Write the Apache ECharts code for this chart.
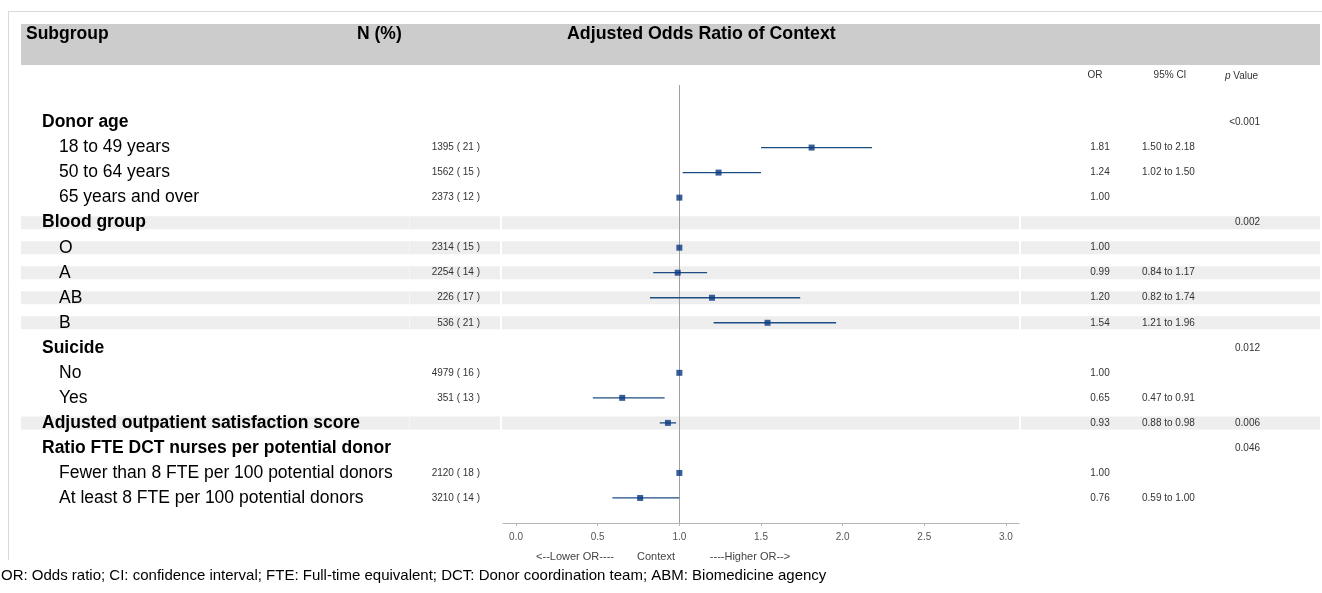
<!DOCTYPE html>
<html><head><meta charset="utf-8">
<script src="https://cdn.jsdelivr.net/npm/echarts@6/dist/echarts.min.js"></script>
<style>html,body{margin:0;padding:0;background:#fff}#c{width:1322px;height:593px}</style>
</head><body><div id="c"></div>
<script>
// ---------- data ----------
const labels = ['Donor age', '18 to 49 years', '50 to 64 years', '65 years and over',
  'Blood group', 'O', 'A', 'AB', 'B',
  'Suicide', 'No', 'Yes',
  'Adjusted outpatient satisfaction score',
  'Ratio FTE DCT nurses per potential donor',
  'Fewer than 8 FTE per 100 potential donors', 'At least 8 FTE per 100 potential donors'];
const isGroup = [1, 0, 0, 0, 1, 0, 0, 0, 0, 1, 0, 0, 1, 1, 0, 0];
const nPct = ['', '1395 ( 21 )', '1562 ( 15 )', '2373 ( 12 )', '', '2314 ( 15 )', '2254 ( 14 )', '226 ( 17 )', '536 ( 21 )',
  '', '4979 ( 16 )', '351 ( 13 )', '', '', '2120 ( 18 )', '3210 ( 14 )'];
const orVal = [null, 1.81, 1.24, 1.00, null, 1.00, 0.99, 1.20, 1.54, null, 1.00, 0.65, 0.93, null, 1.00, 0.76];
const ciLow = [null, 1.50, 1.02, null, null, null, 0.84, 0.82, 1.21, null, null, 0.47, 0.88, null, null, 0.59];
const ciHigh = [null, 2.18, 1.50, null, null, null, 1.17, 1.74, 1.96, null, null, 0.91, 0.98, null, null, 1.00];
const pVal = ['<0.001', '', '', '', '0.002', '', '', '', '', '0.012', '', '', '0.006', '0.046', '', ''];
const shadedRows = [4, 5, 6, 7, 8, 12];
const xTicks = [0, 0.5, 1, 1.5, 2, 2.5, 3];
const refValue = 1;
const footnote = 'OR: Odds ratio; CI: confidence interval; FTE: Full-time equivalent; DCT: Donor coordination team; ABM: Biomedicine agency';

// ---------- derived ----------
const FONT = '"Liberation Sans", Arial, Helvetica, sans-serif';
const rowIds = labels.map((_, i) => String(i));
const orText = orVal.map(v => v == null ? '' : v.toFixed(2));
const ciText = ciLow.map((lo, i) => lo == null ? '' : lo.toFixed(2) + ' to ' + ciHigh[i].toFixed(2));
const pointData = [];
orVal.forEach((v, i) => { if (v != null) pointData.push([v, i]); });
const ciData = [];
ciLow.forEach((lo, i) => { if (lo != null) ciData.push([lo, ciHigh[i], i]); });

const PLOT_TOP = 85, PLOT_H = 438;
const Y_MIN = -1.5, Y_MAX = 16;
const step = PLOT_H / (Y_MAX - Y_MIN);

const chart = echarts.init(document.getElementById('c'), null, { renderer: 'canvas' });

function textAxis(position, offset, align, fmt) {
  return {
    type: 'category', gridIndex: 1, inverse: true, data: rowIds, position: position, offset: offset,
    axisLine: { show: false }, axisTick: { show: false }, splitLine: { show: false },
    axisLabel: { interval: 0, margin: 0, align: align, formatter: fmt, fontFamily: FONT, fontSize: 10, color: '#333' }
  };
}

const option = {
  animation: false,
  textStyle: { fontFamily: FONT },
  grid: [
    { left: 503, right: 303, top: PLOT_TOP, height: PLOT_H },
    { left: 503, right: 303, top: PLOT_TOP + (0 - Y_MIN - 0.5) * step, height: labels.length * step }
  ],
  xAxis: [
    {
      type: 'value', gridIndex: 0, min: -0.08, max: 3.08,
      axisLine: { show: true, onZero: false, lineStyle: { color: '#b4b4b4', width: 1 } },
      axisTick: { show: true, customValues: xTicks, length: 3, lineStyle: { color: '#b4b4b4' } },
      axisLabel: { customValues: xTicks, formatter: v => v.toFixed(1), fontSize: 10, color: '#555', margin: 9, fontFamily: FONT },
      splitLine: { show: false }
    },
    { type: 'value', gridIndex: 1, show: false, min: 0, max: 1 }
  ],
  yAxis: [
    { type: 'value', gridIndex: 0, min: Y_MIN, max: Y_MAX, inverse: true, show: false },
    {
      type: 'category', gridIndex: 1, inverse: true, data: rowIds, position: 'left', offset: 461,
      axisLine: { show: false }, axisTick: { show: false }, splitLine: { show: false },
      axisLabel: {
        interval: 0, margin: 0, align: 'left', fontFamily: FONT,
        formatter: (v, i) => isGroup[i] ? '{g|' + labels[i] + '}' : '{s|' + labels[i] + '}',
        rich: {
          g: { fontFamily: FONT, fontSize: 17.5, fontWeight: 'bold', color: '#000' },
          s: { fontFamily: FONT, fontSize: 17.5, color: '#000', padding: [0, 0, 0, 17] }
        }
      }
    },
    textAxis('left', 23, 'right', (v, i) => nPct[i]),
    textAxis('right', 81, 'center', (v, i) => orText[i]),
    textAxis('right', 123, 'left', (v, i) => ciText[i]),
    textAxis('right', 241, 'right', (v, i) => pVal[i])
  ],
  series: [
    {
      type: 'custom', name: 'bands', xAxisIndex: 0, yAxisIndex: 0, silent: true, z: 0, clip: false,
      data: shadedRows.map(r => [0, r]),
      renderItem: function (params, api) {
        const y = api.coord([0, api.value(1)])[1];
        const segs = [[21, 500], [502, 1019], [1021, 1320]];
        const kids = segs.map(s => ({ type: 'rect', shape: { x: s[0], y: y - 6.5, width: s[1] - s[0], height: 13 }, style: { fill: '#eeeeee' } }));
        kids.push({ type: 'rect', shape: { x: 409, y: y - 6.5, width: 1, height: 13 }, style: { fill: '#f6f6f6' } });
        return { type: 'group', children: kids };
      }
    },
    {
      type: 'custom', name: 'ci', xAxisIndex: 0, yAxisIndex: 0, silent: true, z: 3,
      encode: { x: [0, 1], y: 2 },
      data: ciData,
      renderItem: function (params, api) {
        const a = api.coord([api.value(0), api.value(2)]);
        const b = api.coord([api.value(1), api.value(2)]);
        return { type: 'line', shape: { x1: a[0], y1: a[1], x2: b[0], y2: b[1] }, style: { stroke: '#1c4d82', lineWidth: 1.3 } };
      }
    },
    {
      type: 'scatter', name: 'OR', xAxisIndex: 0, yAxisIndex: 0, z: 4, silent: true,
      symbol: 'rect', symbolSize: 6, itemStyle: { color: '#08377e' },
      data: pointData,
      markLine: {
        silent: true, symbol: 'none', label: { show: false }, z: 2,
        lineStyle: { color: '#a0a0a0', width: 1, type: 'solid' },
        data: [{ xAxis: refValue }]
      }
    }
  ],
  graphic: [
    { type: 'line', silent: true, z: -10, shape: { x1: 8, y1: 11.5, x2: 1322, y2: 11.5 }, style: { stroke: '#d9d9d9', lineWidth: 1 } },
    { type: 'line', silent: true, z: -10, shape: { x1: 8.5, y1: 11, x2: 8.5, y2: 560 }, style: { stroke: '#d9d9d9', lineWidth: 1 } },
    { type: 'rect', silent: true, z: -5, shape: { x: 21, y: 24, width: 1299, height: 41 }, style: { fill: '#cccccc' } },
    { type: 'text', silent: true, x: 26, y: 34, style: { text: 'Subgroup', font: 'bold 17.5px ' + FONT, fill: '#000', verticalAlign: 'middle' } },
    { type: 'text', silent: true, x: 357, y: 34, style: { text: 'N (%)', font: 'bold 17.5px ' + FONT, fill: '#000', verticalAlign: 'middle' } },
    { type: 'text', silent: true, x: 567, y: 34, style: { text: 'Adjusted Odds Ratio of Context', font: 'bold 17.8px ' + FONT, fill: '#000', verticalAlign: 'middle' } },
    { type: 'text', silent: true, x: 1095, y: 75, style: { text: 'OR', font: '10px ' + FONT, fill: '#333', align: 'center', verticalAlign: 'middle' } },
    { type: 'text', silent: true, x: 1170, y: 75, style: { text: '95% CI', font: '10px ' + FONT, fill: '#333', align: 'center', verticalAlign: 'middle' } },
    { type: 'text', silent: true, x: 1225, y: 76, style: { text: '{i|p} Value', font: '10px ' + FONT, fill: '#333', verticalAlign: 'middle',
      rich: { i: { fontStyle: 'italic', fontSize: 10, fontFamily: FONT, fill: '#333' } } } },
    { type: 'text', silent: true, x: 575, y: 557, style: { text: '<--Lower OR----', font: '11px ' + FONT, fill: '#444', align: 'center', verticalAlign: 'middle' } },
    { type: 'text', silent: true, x: 656, y: 557, style: { text: 'Context', font: '11px ' + FONT, fill: '#444', align: 'center', verticalAlign: 'middle' } },
    { type: 'text', silent: true, x: 750, y: 557, style: { text: '----Higher OR-->', font: '11px ' + FONT, fill: '#444', align: 'center', verticalAlign: 'middle' } },
    { type: 'text', silent: true, x: 1, y: 576, style: { text: footnote, font: '15px ' + FONT, fill: '#000', verticalAlign: 'middle' } }
  ]
};
chart.setOption(option);
</script>
</body></html>
